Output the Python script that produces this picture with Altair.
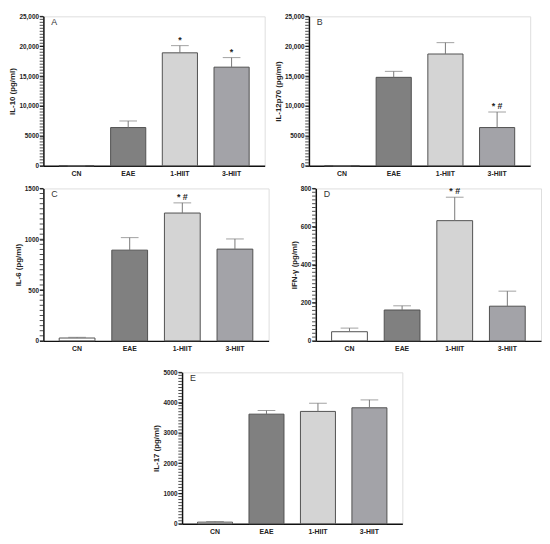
import altair as alt
import pandas as pd

groups = ["CN", "EAE", "1-HIIT", "3-HIIT"]
colors = ["#ffffff", "#808080", "#d4d4d4", "#a3a3a8"]

# Panel A: IL-10
a_mean = [0, 6400, 18900, 16500]
a_err = [0, 7500, 20100, 18100]
a_mark = ["", "", "*", "*"]
# Panel B: IL-12p70
b_mean = [0, 14800, 18700, 6400]
b_err = [0, 15800, 20600, 9000]
b_mark = ["", "", "", "*  #"]
# Panel C: IL-6
c_mean = [28, 893, 1258, 903]
c_err = [35, 1016, 1358, 1003]
c_mark = ["", "", "*  #", ""]
# Panel D: IFN-γ
d_mean = [48, 162, 631, 182]
d_err = [67, 184, 754, 261]
d_mark = ["", "", "*  #", ""]
# Panel E: IL-17
e_mean = [54, 3620, 3710, 3830]
e_err = [75, 3740, 3980, 4090]
e_mark = ["", "", "", ""]

FONT = "Liberation Sans"


def panel(mean, err, mark, ytitle, ymax, major, minor, letter, comma, w, h):
    df = pd.DataFrame({"g": groups, "v": mean, "e": err, "m": mark})
    x = alt.X("g:N", sort=groups, title=None,
              scale=alt.Scale(paddingInner=0.32, paddingOuter=0.3),
              axis=alt.Axis(labelAngle=0, ticks=False, labelFont=FONT,
                            labelFontWeight="bold", labelFontSize=7,
                            labelColor="#222", domainColor="#111",
                            domainWidth=1.5, labelPadding=4))
    yscale = alt.Scale(domain=[0, ymax], nice=False)
    if comma:
        lexpr = "datum.value >= 10000 ? format(datum.value, ',') : format(datum.value, 'd')"
    else:
        lexpr = "format(datum.value, 'd')"
    majors = list(range(0, ymax + 1, major))
    yaxis = alt.Axis(values=majors, labelExpr=lexpr, grid=False,
                     labelFont=FONT, labelFontWeight="bold",
                     labelFontSize=6.5, labelColor="#222",
                     titleFont=FONT, titleFontWeight="bold",
                     titleFontSize=8, titleColor="#222",
                     tickSize=4, tickWidth=1, tickColor="#111",
                     domainColor="#111", domainWidth=1.5,
                     titlePadding=2, labelPadding=1)
    ymain = alt.Y("v:Q", scale=yscale, title=ytitle, axis=yaxis)
    bars = alt.Chart(df).mark_bar(stroke="#505050", strokeWidth=1).encode(
        x=x, y=ymain,
        fill=alt.Fill("g:N", sort=groups, legend=None,
                      scale=alt.Scale(domain=groups, range=colors)))
    rule = alt.Chart(df).mark_rule(color="#777", strokeWidth=1).encode(
        x=alt.X("g:N", sort=groups), y=ymain, y2="e:Q")
    cap = alt.Chart(df).mark_tick(color="#777", thickness=1, size=18).encode(
        x=alt.X("g:N", sort=groups),
        y=alt.Y("e:Q", scale=yscale, title=ytitle, axis=yaxis))
    star = alt.Chart(df).mark_text(font=FONT, fontSize=9, fontWeight="bold",
                                   color="#222", dy=-6).encode(
        x=alt.X("g:N", sort=groups),
        y=alt.Y("e:Q", scale=yscale, title=ytitle, axis=yaxis), text="m:N")
    mdf = pd.DataFrame({"v": list(range(0, ymax + 1, minor))})
    minors = alt.Chart(mdf).mark_tick(color="#000", thickness=1, size=3.6,
                                      orient="horizontal", clip=False).encode(
        y=ymain, x=alt.value(-2))
    lab = alt.Chart(pd.DataFrame({"t": [letter]})).mark_text(
        font=FONT, fontSize=9, color="#333", align="left", baseline="middle"
    ).encode(x=alt.value(8), y=alt.value(6), text="t:N")
    return alt.layer(bars, rule, cap, star, minors, lab).properties(width=w, height=h)


pA = panel(a_mean, a_err, a_mark, "IL-10 (pg/ml)", 25000, 5000, 500, "A", True, 225, 152)
pB = panel(b_mean, b_err, b_mark, "IL-12p70 (pg/ml)", 25000, 5000, 500, "B", True, 225, 152)
pC = panel(c_mean, c_err, c_mark, "IL-6 (pg/ml)", 1500, 500, 50, "C", False, 229, 155)
pD = panel(d_mean, d_err, d_mark, "IFN-γ (pg/ml)", 800, 200, 20, "D", False, 229, 155)
pE = panel(e_mean, e_err, e_mark, "IL-17 (pg/ml)", 5000, 1000, 100, "E", False, 224, 154)

spacer = alt.Chart(pd.DataFrame({"t": [""]})).mark_text().encode(
    text="t:N").properties(width=101, height=10)

chart = alt.vconcat(
    alt.vconcat(
        alt.hconcat(pA, pB, spacing=8),
        alt.hconcat(pC, pD, spacing=20),
        spacing=7,
    ),
    alt.hconcat(spacer, pE, spacing=10),
    spacing=16,
).configure_view(stroke=None).configure(background="white", padding=0)

chart.save("out.html", embed_options={"renderer": "svg", "actions": False})
